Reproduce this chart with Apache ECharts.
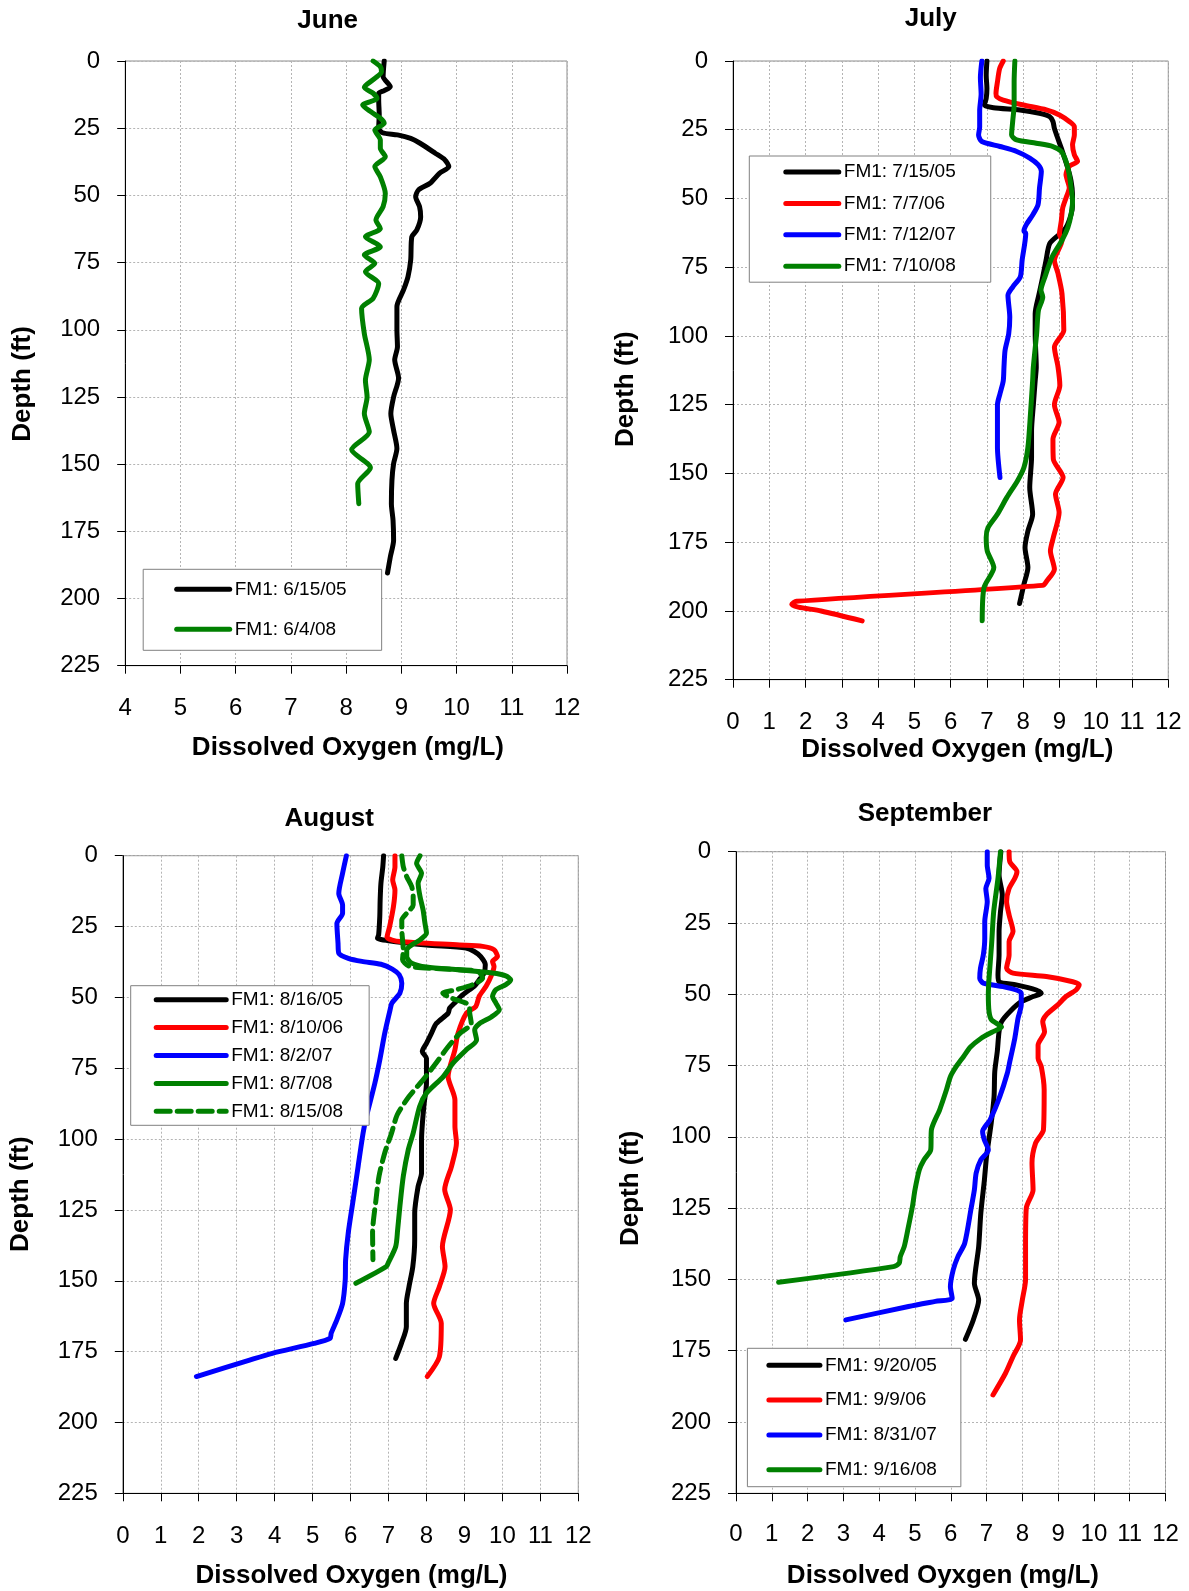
<!DOCTYPE html>
<html>
<head>
<meta charset="utf-8">
<script src="https://cdn.jsdelivr.net/npm/echarts@6/dist/echarts.min.js"></script>
<style>
  html, body { margin: 0; padding: 0; background: #ffffff; }
  #chart { width: 1189px; height: 1591px; }
</style>
</head>
<body>
<div id="chart"></div>
<script>
// ---------------- DATA ----------------
const depthRange = [0, 225];
const depthInterval = 25;
const juneDORange = [4, 12];
const otherDORange = [0, 12];

const panelTitles = ['June', 'July', 'August', 'September'];
const xAxisTitles = ['Dissolved Oxygen (mg/L)', 'Dissolved Oxygen (mg/L)', 'Dissolved Oxygen (mg/L)', 'Dissolved Oyxgen (mg/L)'];
const yAxisTitle = 'Depth (ft)';

// June
const jun05Name = 'FM1: 6/15/05';
const jun05Depth = [0, 5.8, 9.6, 11, 12, 14.5, 20, 25, 26.7, 27.5, 28.8, 30.6, 34.4, 36.8, 39.3, 41.8, 45.5, 48, 50.5, 54.2, 58, 62.9, 65.4, 74, 80.3, 85.2, 91.4, 100, 106.3, 111.2, 118, 125, 131.2, 137.4, 144.2, 149.8, 156, 164.7, 170.9, 178.3, 184.6, 190.5];
const jun05DO =    [8.69, 8.67, 8.80, 8.69, 8.59, 8.59, 8.60, 8.59, 8.66, 8.93, 9.17, 9.34, 9.62, 9.79, 9.86, 9.69, 9.52, 9.31, 9.26, 9.33, 9.35, 9.28, 9.19, 9.17, 9.12, 9.04, 8.92, 8.92, 8.93, 8.88, 8.95, 8.86, 8.81, 8.86, 8.92, 8.86, 8.83, 8.82, 8.85, 8.86, 8.80, 8.75];
const jun08Name = 'FM1: 6/4/08';
const jun08Depth = [0, 2.1, 4, 6.5, 9.8, 12, 13.9, 16.4, 18.9, 21.3, 23.2, 25.7, 29.4, 32.5, 35.6, 39.3, 43.1, 49.3, 54.2, 59.2, 62.3, 65.4, 69.1, 72.2, 75.3, 78.4, 82.8, 88.3, 92.1, 101.4, 111.2, 118.8, 125, 131.2, 138, 144.6, 151.3, 157.3, 164.7];
const jun08DO =    [8.49, 8.62, 8.64, 8.52, 8.33, 8.49, 8.56, 8.30, 8.45, 8.62, 8.69, 8.52, 8.62, 8.62, 8.71, 8.52, 8.62, 8.71, 8.67, 8.54, 8.62, 8.35, 8.62, 8.33, 8.52, 8.35, 8.59, 8.49, 8.28, 8.33, 8.42, 8.35, 8.38, 8.33, 8.42, 8.10, 8.44, 8.21, 8.23];

// July
const jul05Name = 'FM1: 7/15/05';
const jul05Depth = [0, 5.2, 10, 13.6, 16, 17, 17.8, 19, 20.2, 22, 24.5, 28, 31.7, 35.3, 38.9, 43.7, 48.6, 52.2, 55.8, 60.6, 63, 66.4, 72.5, 78.5, 84.6, 91.9, 99.2, 111.3, 116.3, 125, 134.5, 144.2, 155.1, 164.8, 170.9, 176.9, 184.2, 190.3, 197.3];
const jul05DO =    [7.00, 6.98, 7.00, 6.98, 6.93, 7.18, 7.91, 8.45, 8.73, 8.82, 8.86, 8.95, 9.05, 9.14, 9.23, 9.32, 9.36, 9.36, 9.32, 9.18, 9.00, 8.73, 8.63, 8.54, 8.44, 8.33, 8.33, 8.36, 8.33, 8.28, 8.23, 8.23, 8.18, 8.26, 8.13, 8.05, 8.13, 8.02, 7.90];
const jul06Name = 'FM1: 7/7/06';
const jul06Depth = [0, 2.8, 7.6, 11.8, 13, 14.2, 16, 17.8, 19.6, 22, 23.9, 26.9, 30.5, 34.1, 36.5, 38.3, 41.3, 46.1, 49.8, 53.4, 58.2, 63, 65.2, 72.5, 77.3, 84.6, 97.9, 104, 111.3, 118, 125, 131.4, 137.5, 144.8, 151.5, 157.5, 164.2, 173.3, 178.2, 184.8, 189.1, 190.7, 196.5, 197.6, 198.6, 200, 203.6];
const jul06DO =    [7.45, 7.35, 7.29, 7.25, 7.27, 7.45, 8.00, 8.64, 9.00, 9.27, 9.41, 9.41, 9.36, 9.41, 9.50, 9.27, 9.18, 9.27, 9.18, 9.09, 9.05, 9.00, 9.07, 8.86, 8.96, 9.07, 9.12, 8.86, 8.96, 9.01, 8.86, 8.99, 8.82, 8.83, 9.10, 8.89, 8.99, 8.83, 8.75, 8.86, 8.65, 8.54, 1.75, 1.62, 1.80, 2.43, 3.56];
const jul07Name = 'FM1: 7/12/07';
const jul07Depth = [0, 6, 12, 18, 24, 26.9, 29.3, 31.1, 32.9, 35.3, 37.7, 40.1, 46.1, 52.2, 55.8, 59.4, 61.8, 62.7, 72.5, 78.5, 82.2, 85.2, 93.1, 99.2, 105.2, 111.3, 116.3, 121, 125, 134.5, 140.5, 151.5];
const jul07DO =    [6.86, 6.82, 6.84, 6.80, 6.80, 6.77, 6.86, 7.36, 7.82, 8.18, 8.41, 8.50, 8.45, 8.41, 8.27, 8.09, 8.02, 8.07, 7.97, 7.92, 7.71, 7.58, 7.63, 7.60, 7.50, 7.47, 7.45, 7.36, 7.29, 7.29, 7.29, 7.36];
const jul08Name = 'FM1: 7/10/08';
const jul08Depth = [0, 7.6, 16, 22, 26.9, 28.7, 29.9, 31.1, 32.9, 36.5, 41.3, 46.1, 51, 55.8, 60.6, 65.2, 71.2, 78.5, 83.4, 85.8, 90.7, 99.2, 111.3, 116.3, 128.4, 140.5, 147.8, 152.7, 158.7, 164.8, 169.7, 173.3, 178.2, 184.2, 191.5, 203.6];
const jul08DO =    [7.77, 7.75, 7.75, 7.71, 7.68, 7.82, 8.36, 8.82, 9.05, 9.18, 9.27, 9.32, 9.36, 9.32, 9.23, 9.07, 8.80, 8.60, 8.49, 8.54, 8.42, 8.37, 8.28, 8.26, 8.20, 8.13, 8.02, 7.84, 7.55, 7.29, 7.03, 6.98, 7.01, 7.19, 6.92, 6.87];

// August
const aug05Name = 'FM1: 8/16/05';
const aug05Depth = [0, 3.9, 9.8, 15.6, 21.5, 27.9, 29.1, 29.9, 31.5, 32.6, 33.8, 35.6, 38.5, 41.4, 43.8, 46.1, 47.3, 49.6, 52, 53.8, 55.6, 59.2, 62.7, 66.2, 69.1, 71.5, 80.3, 88.5, 100.2, 112, 116.7, 126.1, 135.4, 145, 152.1, 158, 166.2, 172.1, 177.4];
const aug05DO =    [6.87, 6.85, 6.80, 6.78, 6.77, 6.74, 6.71, 6.96, 8.00, 9.04, 9.26, 9.43, 9.55, 9.52, 9.39, 9.26, 9.13, 8.91, 8.74, 8.61, 8.57, 8.26, 8.13, 8.00, 7.89, 8.00, 8.00, 7.93, 7.87, 7.87, 7.78, 7.69, 7.69, 7.64, 7.54, 7.47, 7.47, 7.34, 7.19];
const aug06Name = 'FM1: 8/10/06';
const aug06Depth = [0, 3.9, 8.6, 12.1, 18, 25, 28.8, 30.3, 31.5, 32, 33.2, 35.6, 37.3, 39.1, 42.6, 46.1, 49.6, 53.2, 55.6, 62.7, 68.5, 77.9, 86.2, 95.5, 101.4, 109.6, 117.8, 124.9, 137.9, 145, 152.1, 158, 165, 176.8, 183.8];
const aug06DO =    [7.17, 7.17, 7.11, 7.17, 7.13, 7.03, 6.96, 7.30, 8.87, 9.48, 9.78, 9.87, 9.74, 9.78, 9.70, 9.57, 9.39, 9.30, 9.05, 8.83, 8.75, 8.57, 8.75, 8.75, 8.79, 8.66, 8.48, 8.63, 8.42, 8.49, 8.34, 8.19, 8.39, 8.34, 8.02];
const aug07Name = 'FM1: 8/2/07';
const aug07Depth = [0, 6.2, 13.3, 17.4, 20.3, 23.9, 30.9, 34.4, 36.2, 37.3, 38.3, 40, 42, 45, 48.5, 52, 54.5, 62.7, 72.1, 80.3, 92, 97.9, 109.6, 121.4, 133.1, 142.6, 149.7, 158, 163.8, 168.5, 170.3, 172.1, 175.6, 178, 183.8];
const aug07DO =    [5.89, 5.79, 5.69, 5.79, 5.79, 5.64, 5.67, 5.69, 5.94, 6.30, 6.80, 7.10, 7.28, 7.35, 7.30, 7.09, 7.04, 6.90, 6.77, 6.64, 6.42, 6.33, 6.20, 6.07, 5.94, 5.87, 5.86, 5.79, 5.64, 5.49, 5.46, 5.04, 3.94, 3.34, 1.94];
const aug08Name = 'FM1: 8/7/08';
const aug08Depth = [0, 2.7, 6.2, 9.7, 14.4, 19.1, 23.8, 27.3, 29.7, 31.5, 33.2, 35.6, 37.9, 39.3, 40.3, 41.4, 42.4, 43.8, 45.5, 47.3, 49.6, 52, 54.4, 57, 59.2, 61.5, 65, 68.5, 73.2, 78, 83.8, 88.5, 97.9, 103.8, 113.1, 123.7, 132.1, 137.9, 143.8, 145, 150.9];
const aug08DO =    [7.83, 7.74, 7.87, 7.78, 7.83, 7.91, 7.96, 8.00, 7.83, 7.61, 7.48, 7.48, 7.61, 8.00, 8.87, 9.74, 10.09, 10.22, 10.09, 9.83, 9.74, 9.83, 9.92, 9.70, 9.40, 9.27, 9.32, 9.05, 8.70, 8.44, 8.00, 7.82, 7.65, 7.52, 7.39, 7.30, 7.24, 7.19, 6.99, 6.94, 6.14];
const aug08bName = 'FM1: 8/15/08';
const aug08bDepth = [0, 3.9, 7.4, 10.9, 14.4, 17.4, 20.3, 22.7, 26.2, 29.7, 33.2, 36.7, 39.1, 40, 40.8, 43.2, 45.5, 47.3, 48.5, 50.2, 52, 53.2, 55.6, 59.2, 62.7, 67.4, 73.8, 79.1, 85, 91.4, 97.9, 104.9, 113.1, 121.4, 133.1, 142.6];
const aug08bDO =    [7.35, 7.39, 7.48, 7.61, 7.65, 7.65, 7.48, 7.35, 7.35, 7.37, 7.39, 7.37, 7.57, 8.52, 9.35, 9.48, 9.22, 8.78, 8.43, 8.65, 9.04, 9.13, 9.14, 9.18, 8.88, 8.57, 8.22, 7.91, 7.54, 7.23, 7.08, 6.90, 6.75, 6.67, 6.58, 6.59];

// September
const sep05Name = 'FM1: 9/20/05';
const sep05Depth = [0, 8.2, 15.2, 21, 28, 36.2, 43.2, 45.6, 46.7, 48.5, 49.6, 50.8, 52.6, 56.1, 59.6, 63.1, 70.1, 77.1, 85.9, 95.2, 106.9, 115.1, 126.8, 138.5, 151.3, 157.2, 164.2, 171];
const sep05DO =    [7.40, 7.35, 7.44, 7.39, 7.35, 7.35, 7.32, 7.35, 7.83, 8.39, 8.53, 8.30, 7.97, 7.65, 7.42, 7.35, 7.30, 7.23, 7.21, 7.13, 7.00, 6.94, 6.84, 6.78, 6.66, 6.78, 6.63, 6.41];
const sep06Name = 'FM1: 9/9/06';
const sep06Depth = [0, 3.5, 7, 9.3, 12.9, 17.5, 22.2, 28, 31.5, 36.2, 40.9, 42.6, 43.8, 45.6, 46.7, 48.5, 50.8, 53.7, 57.2, 59.6, 63.1, 67.8, 72.4, 75.4, 83.5, 97.5, 102.2, 109.2, 118.6, 125, 138.5, 150.1, 157.2, 164.2, 171.2, 177, 182.9, 190.5];
const sep06DO =    [7.63, 7.65, 7.85, 7.79, 7.63, 7.56, 7.63, 7.74, 7.63, 7.63, 7.56, 7.74, 8.67, 9.41, 9.59, 9.50, 9.22, 8.99, 8.67, 8.57, 8.62, 8.44, 8.44, 8.53, 8.61, 8.59, 8.37, 8.27, 8.30, 8.11, 8.09, 8.09, 8.00, 7.92, 7.95, 7.74, 7.53, 7.18];
const sep07Name = 'FM1: 8/31/07';
const sep07Depth = [0, 4.7, 9.3, 12.9, 17.5, 24.5, 30.4, 36.2, 40.9, 44.4, 46.1, 47.3, 48.5, 49.6, 53.7, 58.4, 65.4, 73.6, 77.7, 85.9, 94, 98.1, 101.1, 104.6, 108.1, 112.7, 118.6, 125, 137.3, 142, 146.6, 152.5, 156.6, 157.7, 159.5, 164.2];
const sep07DO =    [7.02, 7.02, 7.07, 6.98, 7.02, 6.95, 6.95, 6.91, 6.83, 6.81, 6.91, 7.46, 7.83, 7.97, 7.97, 7.88, 7.79, 7.65, 7.58, 7.37, 7.10, 6.89, 6.94, 7.05, 6.84, 6.71, 6.66, 6.57, 6.39, 6.20, 6.07, 5.99, 6.04, 5.57, 4.82, 3.07];
const sep08Name = 'FM1: 9/16/08';
const sep08Depth = [0, 9.3, 21, 32.7, 44.4, 50.2, 56.1, 59, 61.5, 63.3, 65.4, 68.5, 71.8, 75.4, 78.9, 83.5, 90.5, 97.5, 104.6, 108.1, 111.6, 118.6, 124.4, 132.6, 138.5, 142, 144.3, 145.5, 151];
const sep08DO =    [7.39, 7.32, 7.20, 7.14, 7.07, 7.05, 7.07, 7.14, 7.42, 7.15, 6.85, 6.55, 6.36, 6.15, 5.99, 5.88, 5.69, 5.46, 5.44, 5.25, 5.12, 5.00, 4.93, 4.80, 4.70, 4.59, 4.56, 4.40, 1.19];

// ---------------- LAYOUT / STYLE ----------------
const FONT = '"Liberation Sans", Arial, Helvetica, sans-serif';
const BLACK = '#000000', RED = '#ff0000', BLUE = '#0000ff', GREEN = '#008000';

const grids = [
  { left: 125.2, top: 61,    width: 441.8, height: 604.7 },
  { left: 733,   top: 61,    width: 435.3, height: 618.7 },
  { left: 122.8, top: 855.7, width: 455.5, height: 637.6 },
  { left: 736,   top: 851.7, width: 429.5, height: 641.6 }
];
const xRanges = [juneDORange, otherDORange, otherDORange, otherDORange];
const xLabelMargins = [31, 31, 31, 29];

const chart = echarts.init(document.getElementById('chart'), null, { renderer: 'canvas' });

function pairs(doArr, depthArr) {
  return depthArr.map((d, i) => [doArr[i], d]);
}
function line(name, doArr, depthArr, color, gi, dashed) {
  return {
    type: 'line', name: name, xAxisIndex: gi, yAxisIndex: gi,
    data: pairs(doArr, depthArr),
    symbol: 'none', showSymbol: false, smooth: 0.25,
    silent: true, animation: false,
    lineStyle: { color: color, width: 5, type: dashed ? [14, 7] : 'solid', cap: 'round', join: 'round' },
    itemStyle: { color: color },
    emphasis: { disabled: true }
  };
}

const series = [
  line(jun05Name, jun05DO, jun05Depth, BLACK, 0),
  line(jun08Name, jun08DO, jun08Depth, GREEN, 0),
  line(jul05Name, jul05DO, jul05Depth, BLACK, 1),
  line(jul06Name, jul06DO, jul06Depth, RED, 1),
  line(jul07Name, jul07DO, jul07Depth, BLUE, 1),
  line(jul08Name, jul08DO, jul08Depth, GREEN, 1),
  line(aug05Name, aug05DO, aug05Depth, BLACK, 2),
  line(aug06Name, aug06DO, aug06Depth, RED, 2),
  line(aug07Name, aug07DO, aug07Depth, BLUE, 2),
  line(aug08Name, aug08DO, aug08Depth, GREEN, 2),
  line(aug08bName, aug08bDO, aug08bDepth, GREEN, 2, true),
  line(sep05Name, sep05DO, sep05Depth, BLACK, 3),
  line(sep06Name, sep06DO, sep06Depth, RED, 3),
  line(sep07Name, sep07DO, sep07Depth, BLUE, 3),
  line(sep08Name, sep08DO, sep08Depth, GREEN, 3)
];

const splitStyle = { show: true, lineStyle: { color: '#b4b4b4', width: 1, type: [2, 2] } };

const xAxes = grids.map((g, i) => ({
  type: 'value', gridIndex: i, position: 'bottom',
  min: xRanges[i][0], max: xRanges[i][1], interval: 1,
  axisLine: { show: true, onZero: false, lineStyle: { color: '#000', width: 1 } },
  axisTick: { show: true, inside: false, length: 8, lineStyle: { color: '#000', width: 1 } },
  axisLabel: { show: true, color: '#000', fontSize: 24, fontFamily: FONT, margin: xLabelMargins[i], hideOverlap: false, showMinLabel: true, showMaxLabel: true },
  splitLine: splitStyle
}));
const yAxes = grids.map((g, i) => ({
  type: 'value', gridIndex: i, position: 'left', inverse: true,
  min: depthRange[0], max: depthRange[1], interval: depthInterval,
  axisLine: { show: true, onZero: false, lineStyle: { color: '#000', width: 1 } },
  axisTick: { show: true, inside: false, length: 8, lineStyle: { color: '#000', width: 1 } },
  axisLabel: { show: true, color: '#000', fontSize: 24, fontFamily: FONT, margin: 25, hideOverlap: false, showMinLabel: true, showMaxLabel: true },
  splitLine: splitStyle
}));

function legend(names, left, top, padding, itemGap, itemWidth) {
  return {
    show: true, data: names, orient: 'vertical', left: left, top: top,
    padding: padding, itemGap: itemGap, itemWidth: itemWidth, itemHeight: 20,
    backgroundColor: '#ffffff', borderColor: '#808080', borderWidth: 1, borderRadius: 0,
    selectedMode: false,
    textStyle: { color: '#000', fontSize: 19, fontFamily: FONT, lineHeight: 20 },
    itemStyle: { opacity: 0 },
    lineStyle: { width: 5 }
  };
}
const legends = [
  legend([jun05Name, jun08Name], 143.2, 569.3, [10, 35, 11, 31], 20, 53),
  legend([jul05Name, jul06Name, jul07Name, jul08Name], 749.3, 156, [6, 35, 6, 34], 11.4, 53),
  legend([aug05Name, aug06Name, aug07Name, aug08Name, aug08bName], 130.7, 985.7, [4, 26, 4, 23], 7.9, 70),
  legend([sep05Name, sep06Name, sep07Name, sep08Name], 747.4, 1348.3, [7, 24, 7, 19], 14.8, 51)
];

function txt(x, y, s, size, rot) {
  return {
    type: 'text', x: x, y: y, rotation: rot || 0, silent: true,
    style: { text: s, fill: '#000', font: 'bold ' + size + 'px ' + FONT, align: 'center', verticalAlign: 'middle' }
  };
}
const titlePos = [[327.7, 20.5], [930.7, 19], [329.2, 818.7], [924.9, 813.7]];
const xTitlePos = [[347.9, 747.7], [957.3, 750], [351.5, 1575.8], [942.9, 1575.8]];
const yTitlePos = [[22.5, 383.9], [625.9, 389.2], [20.6, 1194.2], [631.1, 1188.3]];
const graphics = [];
for (let i = 0; i < 4; i++) {
  graphics.push(txt(titlePos[i][0], titlePos[i][1], panelTitles[i], 26));
  graphics.push(txt(xTitlePos[i][0], xTitlePos[i][1], xAxisTitles[i], 26));
  graphics.push(txt(yTitlePos[i][0], yTitlePos[i][1], yAxisTitle, 26, Math.PI / 2));
}

chart.setOption({
  animation: false,
  backgroundColor: '#ffffff',
  textStyle: { fontFamily: FONT },
  grid: grids.map(g => Object.assign({ show: true, borderColor: '#8c8c8c', borderWidth: 1, backgroundColor: 'transparent', containLabel: false, outerBoundsMode: 'none' }, g)),
  xAxis: xAxes,
  yAxis: yAxes,
  legend: legends,
  series: series,
  graphic: graphics
});
</script>
</body>
</html>
